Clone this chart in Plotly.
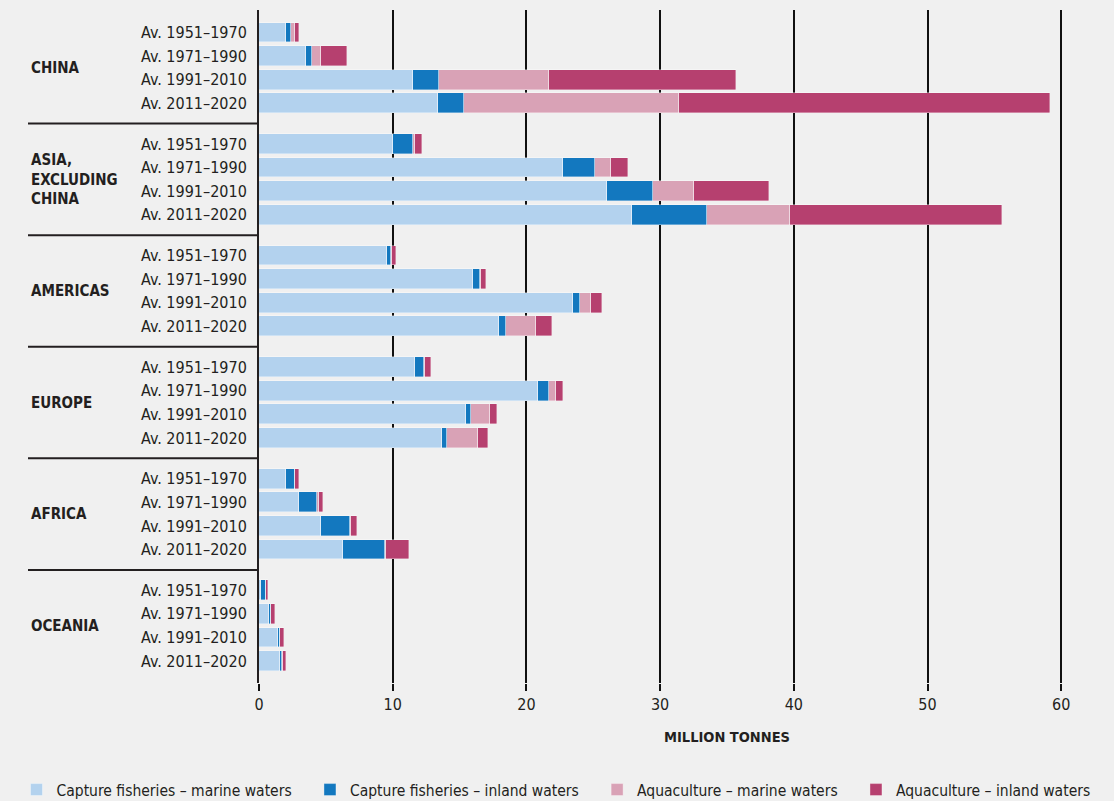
import plotly.graph_objects as go

# regions and periods (rows top to bottom)
regions = ["CHINA", "ASIA,<br>EXCLUDING<br>CHINA", "AMERICAS", "EUROPE", "AFRICA", "OCEANIA"]
periods = ["Av. 1951–1970", "Av. 1971–1990", "Av. 1991–2010", "Av. 2011–2020"]

# million tonnes, region by region, 4 periods each
capture_marine = [2.0, 3.5, 11.55, 13.4,
                  10.05, 22.7, 26.0, 27.9,
                  9.6, 16.0, 23.5, 17.95,
                  11.7, 20.9, 15.5, 13.7,
                  2.05, 3.0, 4.65, 6.3,
                  0.15, 0.72, 1.4, 1.57]
capture_inland = [0.4, 0.5, 1.95, 1.95,
                  1.5, 2.45, 3.45, 5.6,
                  0.3, 0.5, 0.5, 0.5,
                  0.65, 0.8, 0.35, 0.35,
                  0.65, 1.35, 2.15, 3.15,
                  0.35, 0.15, 0.15, 0.15]
aqua_marine = [0.3, 0.6, 8.2, 16.1,
               0.15, 1.15, 3.1, 6.2,
               0.05, 0.1, 0.8, 2.3,
               0.1, 0.5, 1.45, 2.3,
               0.02, 0.1, 0.05, 0.05,
               0.05, 0.05, 0.05, 0.05]
aqua_inland = [0.3, 2.0, 13.95, 27.7,
               0.5, 1.3, 5.6, 15.9,
               0.3, 0.35, 0.85, 1.15,
               0.4, 0.5, 0.5, 0.8,
               0.3, 0.35, 0.45, 1.75,
               0.1, 0.3, 0.27, 0.27]

pad = "\u00a0" * 3
series = [("Capture fisheries – marine waters" + pad, capture_marine, "#b3d2ee"),
          ("Capture fisheries – inland waters" + pad, capture_inland, "#1378bf"),
          ("Aquaculture – marine waters" + pad, aqua_marine, "#d9a2b6"),
          ("Aquaculture – inland waters", aqua_inland, "#b6406f")]

GAP = 0.73          # extra space between region groups (in row units)
STEP = 4 + GAP
ypos = [g * STEP + r for g in range(len(regions)) for r in range(len(periods))]
ylabels = [p for _ in regions for p in periods]

FONT = "DejaVu Sans Condensed, sans-serif"
TXT = "#231f20"

W, H = 1114, 801
ML, MR, MT, MB = 259, 12, 10, 118
PW = W - ML - MR
XMAX = PW / 13.37      # keeps 0..60 at the same pixel spacing as the reference

fig = go.Figure()
for name, vals, col in series:
    fig.add_trace(go.Bar(
        y=ypos, x=vals, name=name, orientation="h", width=0.84,
        marker=dict(color=col, line=dict(color="rgba(255,255,255,0.45)", width=0.8)),
    ))

# left separators between region groups
for g in range(1, len(regions)):
    yl = g * STEP - (GAP + 1) / 2
    fig.add_shape(type="line", xref="paper", yref="y", x0=-231 / PW, x1=0, y0=yl, y1=yl,
                  line=dict(color="#231f20", width=2))

# region names
for g, reg in enumerate(regions):
    fig.add_annotation(xref="paper", yref="y", x=-230 / PW, y=g * STEP + 1.5,
                       text="<b>" + reg + "</b>", showarrow=False, xanchor="left",
                       yanchor="middle", align="left",
                       font=dict(family=FONT, size=15, color=TXT))

fig.add_annotation(xref="x", yref="paper", x=35, y=-0.08, text="<b>MILLION TONNES</b>",
                   showarrow=False, xanchor="center", yanchor="middle",
                   font=dict(family=FONT, size=14.5, color=TXT))

fig.update_layout(
    width=W, height=H,
    barmode="stack", bargap=0,
    paper_bgcolor="#f0f0f0", plot_bgcolor="#f0f0f0",
    margin=dict(l=ML, r=MR, t=MT, b=MB, autoexpand=False),
    font=dict(family=FONT, size=16, color=TXT),
    legend=dict(orientation="h", x=-(ML - 16.5) / PW, xanchor="left", y=-0.159, yanchor="middle",
                font=dict(family=FONT, size=15.5, color=TXT), traceorder="normal"),
    showlegend=True,
)
fig.update_xaxes(range=[0, XMAX], tickvals=[0, 10, 20, 30, 40, 50, 60],
                 showgrid=True, gridcolor="#111111", gridwidth=2,
                 zeroline=False, showline=False,
                 ticks="outside", ticklen=7, tickcolor="#111111", tickwidth=1.5,
                 tickfont=dict(family=FONT, size=16, color=TXT))
fig.update_yaxes(range=[5 * STEP + 3 + 0.93, -0.95], tickvals=ypos, ticktext=ylabels,
                 showgrid=False, zeroline=False, showline=True, linecolor="#231f20",
                 linewidth=2, ticks="", ticklabelstandoff=7,
                 tickfont=dict(family=FONT, size=16, color=TXT))

fig.write_html("out.html", config={"displayModeBar": False},
               post_script="document.body.style.margin='0';")
